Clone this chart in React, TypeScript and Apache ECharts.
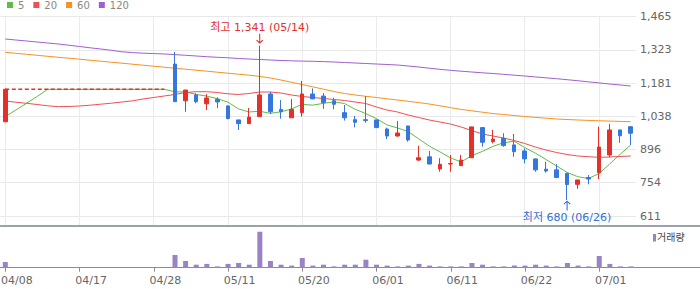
import { useEffect, useRef } from 'react';
import * as echarts from 'echarts';

// ---------- data ----------
const categories = [
  '04/08','04/09','04/10','04/11','04/12','04/15','04/16','04/17','04/18','04/19',
  '04/22','04/23','04/24','04/25','04/28','04/29','04/30','05/02','05/03','05/07',
  '05/08','05/11','05/12','05/13','05/14','05/15','05/16','05/17','05/20','05/21',
  '05/22','05/23','05/24','05/27','05/28','06/01','06/03','06/04','06/05','06/07',
  '06/08','06/10','06/11','06/12','06/13','06/14','06/17','06/18','06/19','06/22',
  '06/23','06/24','06/25','06/26','06/27','06/28','07/01','07/02','07/03','07/04',
];

// [open, close, low, high]; null = trading halted (no candle)
const ohlc: (number[] | null)[] = [
  [1015, 1154, 1013, 1157],
  null, null, null, null, null, null, null, null, null, null, null, null, null, null, null,
  [1262, 1101, 1101, 1314],
  [1105, 1151, 1058, 1151],
  [1130, 1101, 1094, 1137],
  [1092, 1117, 1065, 1133],
  [1111, 1100, 1073, 1120],
  [1083, 1029, 1025, 1085],
  [1023, 1007, 980, 1023],
  [1007, 1035, 1006, 1074],
  [1037, 1130, 1036, 1341],
  [1134, 1058, 1048, 1143],
  [1068, 1058, 1028, 1108],
  [1032, 1068, 1032, 1113],
  [1054, 1134, 1037, 1190],
  [1134, 1113, 1112, 1158],
  [1125, 1097, 1070, 1138],
  [1105, 1090, 1068, 1118],
  [1054, 1032, 1020, 1087],
  [1024, 1013, 991, 1040],
  [1024, 1020, 1011, 1125],
  [1023, 990, 988, 1024],
  [984, 954, 941, 990],
  [954, 967, 951, 1018],
  [997, 937, 930, 998],
  [851, 861, 847, 912],
  [865, 834, 833, 890],
  [813, 833, 801, 859],
  [834, 836, 801, 873],
  [827, 851, 826, 873],
  [861, 993, 860, 994],
  [990, 927, 908, 991],
  [930, 941, 923, 980],
  [944, 913, 908, 966],
  [916, 887, 865, 963],
  [890, 856, 837, 901],
  [856, 809, 801, 857],
  [812, 804, 797, 844],
  [809, 776, 774, 834],
  [794, 746, 680, 796],
  [747, 766, 728, 766],
  [776, 770, 747, 787],
  [797, 907, 769, 994],
  [873, 980, 863, 1006],
  [980, 955, 925, 981],
  [994, 966, 916, 995],
];

const volumes = [
  285, 0, 0, 0, 0, 0, 0, 0, 0, 0, 0, 0, 0, 0, 0, 0,
  635, 335, 150, 190, 65, 190, 235, 150, 1800, 335,
  150, 105, 485, 105, 150, 65, 150, 150, 400, 150,
  105, 65, 105, 190, 105, 65, 65, 65, 235, 150,
  65, 65, 105, 105, 150, 105, 65, 235, 105, 65,
  585, 190, 65, 65,
];

const ma5 = [
  1036.8, 1065.6, 1094.4, 1123.2, 1154, 1154, 1154, 1154, 1154, 1154,
  1154, 1154, 1154, 1154, 1154, 1154, 1143.4, 1142.8, 1132.2, 1124.8,
  1113.9, 1099.1, 1070.2, 1057.1, 1059.7, 1051.4, 1057.6, 1069.9, 1089.6, 1086.2,
  1093.9, 1100.3, 1093.1, 1068.8, 1050.2, 1028.8, 1001.7, 988.6, 973.4, 941.7,
  910.6, 886.4, 860.2, 843.1, 869.4, 888, 909.6, 924.9, 932, 904.6,
  880.9, 853.5, 826.1, 797.9, 779.9, 772.1, 792.7, 833.5, 875.5, 915.5,
];
const ma20 = [
  1104.0, 1098.8, 1094.1, 1089.0, 1083.4, 1079.6, 1080.4, 1082.6, 1086.0, 1090.3,
  1094.5, 1099.7, 1104.8, 1112.5, 1119.0, 1125.4, 1131.8, 1140.4, 1143.8, 1143.8,
  1140.4, 1134.8, 1131.8, 1136.1, 1142.5, 1142.5, 1138.2, 1129.7, 1123.2, 1119.0,
  1114.7, 1110.4, 1106.1, 1099.7, 1093.3, 1078.3, 1065.4, 1056.9, 1044.0, 1033.3,
  1022.6, 1014.0, 1005.5, 992.6, 977.6, 962.6, 954.1, 945.5, 934.8, 922.0,
  907.0, 894.1, 883.4, 874.8, 868.4, 865.4, 862.8, 864.1, 866.3, 868.4,
];
const ma60 = [
  1312.5, 1308.3, 1304.0, 1299.7, 1295.4, 1291.1, 1287.3, 1283.0, 1278.7, 1274.4,
  1270.1, 1265.9, 1261.6, 1257.3, 1253.0, 1248.7, 1244.4, 1240.2, 1235.9, 1231.6,
  1227.3, 1223.0, 1218.7, 1214.5, 1209.3, 1202.5, 1193.9, 1184.1, 1174.6, 1164.8,
  1154.5, 1144.7, 1136.1, 1129.7, 1124.1, 1119.0, 1113.4, 1108.3, 1102.7, 1097.1,
  1091.1, 1083.4, 1075.7, 1068.0, 1062.0, 1056.0, 1050.4, 1046.2, 1041.9, 1037.6,
  1033.7, 1030.3, 1026.9, 1024.7, 1022.6, 1020.9, 1019.2, 1017.9, 1016.6, 1015.3,
];
const ma120 = [
  1369.5, 1365.2, 1360.9, 1356.6, 1352.4, 1348.1, 1342.9, 1337.4, 1331.8, 1326.7,
  1321.1, 1314.7, 1311.3, 1308.7, 1307.0, 1305.3, 1302.7, 1299.7, 1296.7, 1293.7,
  1291.1, 1289.0, 1286.0, 1283.8, 1281.7, 1279.6, 1277.4, 1276.1, 1274.8, 1274.0,
  1272.7, 1271.0, 1268.9, 1266.7, 1264.6, 1262.4, 1260.3, 1258.1, 1253.9, 1249.6,
  1244.4, 1239.7, 1235.4, 1231.6, 1228.2, 1224.7, 1221.7, 1218.3, 1214.5, 1211.0,
  1207.2, 1203.3, 1199.5, 1195.2, 1190.9, 1186.2, 1181.5, 1176.8, 1172.5, 1168.2,
];

const yTickValues = [611, 754, 896, 1038, 1181, 1323, 1465];
const yAxisMin = 568.6;
const yAxisMax = 1465;
const haltLastIndex = 15; // the price stayed at the first day's close until here
const emptySlotsAfter = 6; // the volume axis runs on past the last day
const labelEvery = 7;

// ---------- styles ----------
const FONT = "'DejaVu Sans', 'Noto Sans CJK KR', sans-serif";
const UP = '#e4302b';
const DOWN = '#3677dd';
const LOW_BLUE = '#2f6fd8';
const VOL = '#9983c4';
const MA_COLORS = { '5': '#62bb46', '20': '#ee4f4f', '60': '#f7921e', '120': '#a05fd0' };

const ARROW_DOWN = 'path://M3,0H4V8.2L6.1,6.1L6.8,6.8L3.5,10.1L0.2,6.8L0.9,6.1L3,8.2Z';
const ARROW_UP = 'path://M3,10.1H4V1.9L6.1,4L6.8,3.3L3.5,0L0.2,3.3L0.9,4L3,1.9Z';

const fmt = (v: number) => Math.round(v).toLocaleString('en-US');

export default function App() {
  const ref = useRef<HTMLDivElement>(null);

  useEffect(() => {
    if (!ref.current) return;
    const chart = echarts.init(ref.current, undefined, { renderer: 'svg' });

    const candleData = ohlc.map((d) => (d ? d : ['-', '-', '-', '-']));
    const haltLine = categories.map((_, i) => (i <= haltLastIndex && ohlc[0] ? ohlc[0][1] : '-'));
    const volumeCategories = [...categories, ...new Array(emptySlotsAfter).fill('')];

    let hiIdx = 0;
    let loIdx = 0;
    ohlc.forEach((d, i) => {
      if (!d) return;
      if (d[3] > (ohlc[hiIdx] as number[])[3]) hiIdx = i;
      if (d[2] < (ohlc[loIdx] as number[])[2]) loIdx = i;
    });
    const hiVal = (ohlc[hiIdx] as number[])[3];
    const loVal = (ohlc[loIdx] as number[])[2];

    const tickFn = (i: number, v: string) => i % labelEvery === 0 && v !== '';

    const maSeries = (name: '5' | '20' | '60' | '120', data: number[]) => ({
      name,
      type: 'line',
      xAxisIndex: 0,
      yAxisIndex: 0,
      data,
      symbol: 'none',
      showSymbol: false,
      silent: true,
      lineStyle: { width: 1, color: MA_COLORS[name] },
      itemStyle: { color: MA_COLORS[name] },
      z: 2,
    });

    const option: any = {
      animation: false,
      backgroundColor: '#ffffff',
      textStyle: { fontFamily: FONT },
      legend: {
        data: ['5', '20', '60', '120'],
        left: 7,
        top: 0,
        padding: 0,
        icon: 'rect',
        itemWidth: 6,
        itemHeight: 6,
        itemGap: 9,
        textStyle: { color: '#888', fontSize: 10, fontFamily: FONT },
      },
      grid: [
        { left: 0, right: 64, top: 16.7, bottom: 63, containLabel: false, outerBoundsMode: 'none' },
        { left: 0, right: 0, top: 226, bottom: 21.3, containLabel: false, outerBoundsMode: 'none' },
      ],
      xAxis: [
        {
          type: 'category',
          gridIndex: 0,
          data: categories,
          boundaryGap: true,
          axisLine: { show: false },
          axisTick: { show: false },
          axisLabel: { show: false },
          splitLine: {
            show: true,
            interval: (i: number) => i % labelEvery === 0,
            alignWithLabel: true,
            lineStyle: { color: '#ebebeb', width: 1 },
          },
        },
        {
          type: 'category',
          gridIndex: 1,
          data: volumeCategories,
          boundaryGap: true,
          position: 'bottom',
          axisLine: { show: true, lineStyle: { color: '#8c8c8c', width: 1 } },
          axisTick: {
            show: true,
            alignWithLabel: true,
            interval: tickFn,
            length: 4,
            lineStyle: { color: '#8c8c8c' },
          },
          axisLabel: {
            interval: tickFn,
            color: '#666',
            fontSize: 11,
            fontFamily: FONT,
            margin: 7,
            align: 'center',
            padding: [0, 0, 0, 23],
          },
          splitLine: { show: false },
        },
        {
          type: 'category',
          gridIndex: 1,
          data: volumeCategories,
          position: 'top',
          axisLine: { show: true, lineStyle: { color: '#7a838c', width: 1.5 } },
          axisTick: { show: false },
          axisLabel: { show: false },
          splitLine: { show: false },
        },
      ],
      yAxis: [
        {
          type: 'value',
          gridIndex: 0,
          position: 'right',
          min: yAxisMin,
          max: yAxisMax,
          axisLine: { show: false },
          axisTick: { show: false, customValues: yTickValues },
          axisLabel: {
            customValues: yTickValues,
            formatter: (v: number) => fmt(v),
            color: '#666',
            fontSize: 11,
            fontFamily: FONT,
            margin: 4,
          },
          splitLine: { show: true, lineStyle: { color: '#e8e8e8', width: 1 } },
        },
        {
          type: 'value',
          gridIndex: 1,
          min: 0,
          max: (v: { max: number }) => v.max * 1.16,
          show: false,
          splitLine: { show: false },
        },
      ],
      series: [
        maSeries('5', ma5),
        maSeries('20', ma20),
        maSeries('60', ma60),
        maSeries('120', ma120),
        {
          name: 'halt',
          type: 'line',
          xAxisIndex: 0,
          yAxisIndex: 0,
          data: haltLine,
          symbol: 'none',
          silent: true,
          lineStyle: { width: 1.4, color: UP, type: [4, 2.5] },
          z: 3,
        },
        {
          name: '일봉',
          type: 'candlestick',
          xAxisIndex: 0,
          yAxisIndex: 0,
          data: candleData,
          barWidth: 4,
          z: 4,
          itemStyle: {
            color: UP,
            color0: DOWN,
            borderColor: UP,
            borderColor0: DOWN,
            borderWidth: 1,
          },
          markPoint: {
            silent: true,
            symbolSize: [7, 10],
            data: [
              {
                coord: [hiIdx, hiVal],
                symbol: ARROW_DOWN,
                symbolOffset: [0, -7],
                itemStyle: { color: UP, borderWidth: 0 },
                label: {
                  show: true,
                  position: 'top',
                  distance: 1,
                  formatter: `최고 ${fmt(hiVal)} (${categories[hiIdx]})`,
                  color: UP,
                  fontSize: 11,
                  fontFamily: FONT,
                },
              },
              {
                coord: [loIdx, loVal],
                symbol: ARROW_UP,
                symbolOffset: [0, 5.5],
                itemStyle: { color: LOW_BLUE, borderWidth: 0 },
                label: {
                  show: true,
                  position: 'bottom',
                  distance: 2,
                  formatter: `최저 ${fmt(loVal)} (${categories[loIdx]})`,
                  color: LOW_BLUE,
                  fontSize: 11,
                  fontFamily: FONT,
                },
              },
            ],
          },
        },
        {
          name: '거래량',
          type: 'bar',
          xAxisIndex: 1,
          yAxisIndex: 1,
          data: volumes,
          barWidth: 5,
          silent: true,
          itemStyle: { color: VOL },
          z: 3,
        },
      ],
      graphic: [
        {
          type: 'rect',
          left: 653,
          top: 234,
          shape: { width: 3, height: 7.5 },
          style: { fill: VOL },
          silent: true,
        },
        {
          type: 'text',
          left: 657,
          top: 232,
          style: { text: '거래량', fill: '#444', fontSize: 10, fontFamily: FONT },
          silent: true,
        },
      ],
    };

    chart.setOption(option);
    return () => chart.dispose();
  }, []);

  return (
    <div
      ref={ref}
      style={{ position: 'fixed', left: 0, top: 0, width: 700, height: 289, background: '#fff' }}
    />
  );
}
